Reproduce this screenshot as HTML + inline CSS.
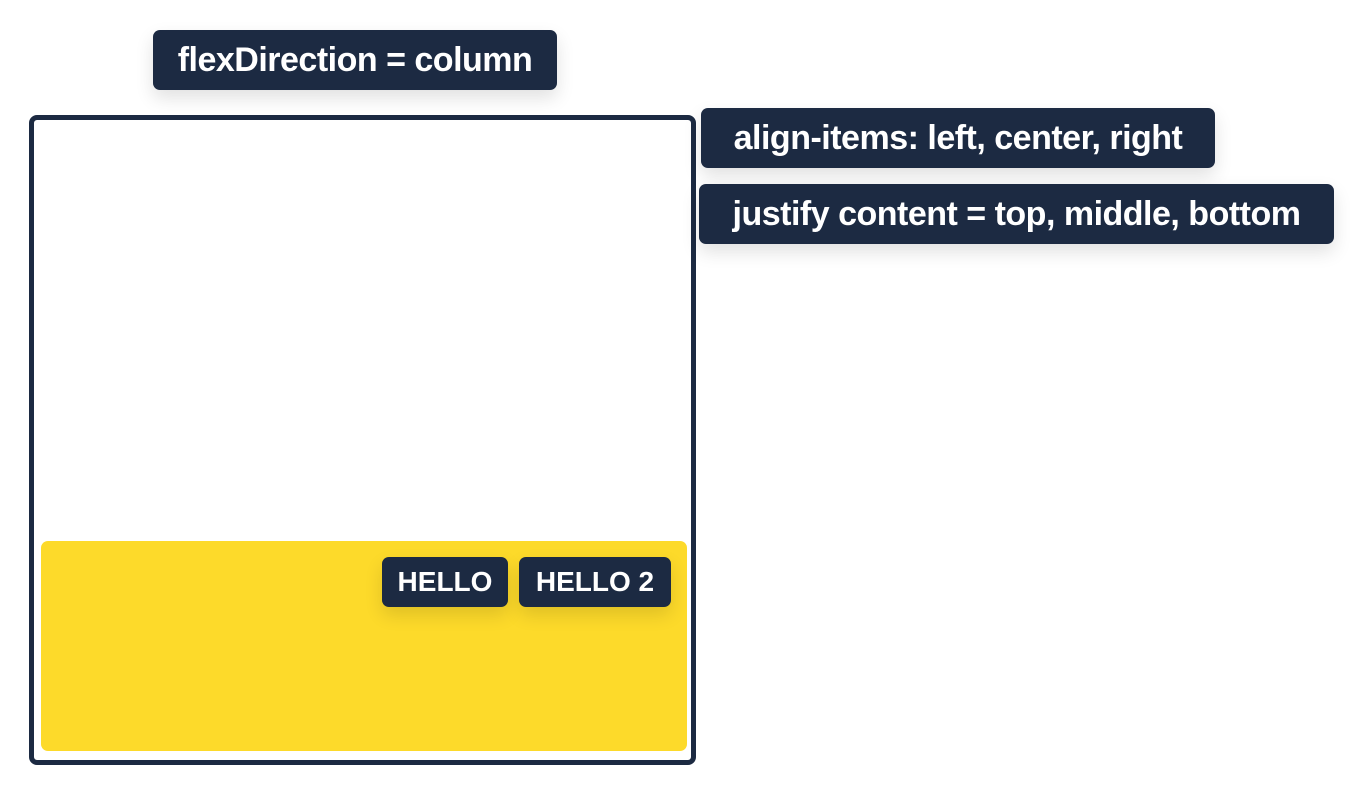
<!DOCTYPE html>
<html><head><style>
body{margin:0;width:1350px;height:785px;background:#fff;position:relative;overflow:hidden;font-family:"Liberation Sans",sans-serif}
.t{position:absolute;background:#1c2a42;color:#fff;font-weight:bold;border-radius:7px;display:flex;align-items:center;justify-content:center;box-shadow:0 8px 18px rgba(0,0,0,0.12);white-space:nowrap}
.big{font-size:34px;height:60px;letter-spacing:-0.5px}
.sm{font-size:28px;height:50px}
</style></head><body>
<div class="t big" style="left:153px;top:30px;width:404px">flexDirection = column</div>
<div style="position:absolute;left:29px;top:115px;width:657px;height:640px;border:5px solid #1c2a42;border-radius:8px"></div>
<div style="position:absolute;left:41px;top:541px;width:646px;height:210px;background:#fdda2a;border-radius:7px"></div>
<div class="t sm" style="left:382px;top:557px;width:126px">HELLO</div>
<div class="t sm" style="left:519px;top:557px;width:152px">HELLO 2</div>
<div class="t big" style="left:701px;top:108px;width:514px">align-items: left, center, right</div>
<div class="t big" style="left:699px;top:184px;width:635px">justify content = top, middle, bottom</div>
</body></html>
